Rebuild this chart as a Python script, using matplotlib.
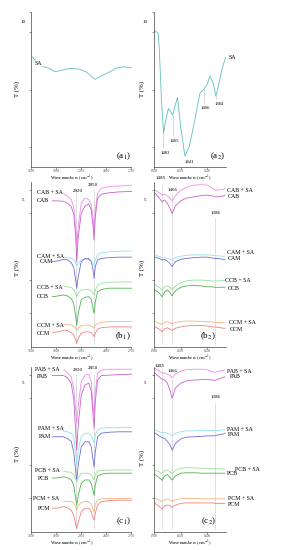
import matplotlib
matplotlib.use('Agg')
import matplotlib.pyplot as plt
import matplotlib.transforms as mtrans

plt.rcParams['font.family'] = ['Liberation Serif', 'DejaVu Serif']
plt.rcParams['mathtext.fontset'] = 'stix'

# ---------------- data ----------------
# panel a1 (SA, 3100-2700 cm-1)
WN_A1 = [3095, 3080, 3051, 3030, 3005, 2975, 2945, 2905, 2880, 2846, 2820, 2786, 2760, 2733, 2700]
T_SA_A1 = [57.0, 54.2, 51.8, 51.1, 49.2, 50.1, 51.0, 50.5, 49.1, 45.3, 47.0, 49.2, 51.1, 51.8, 51.3]

# panel a2 (SA, 1500-1365 cm-1)
WN_A2 = [1500, 1492, 1490, 1486, 1482, 1478, 1473, 1469, 1465, 1461, 1456, 1450, 1442, 1434,
         1426, 1414, 1407, 1401, 1395, 1389, 1384, 1378, 1373, 1366]
T_SA_A2 = [70.8, 69.1, 60.4, 34.5, 17.3, 24.2, 30.2, 28.5, 26.8, 31.1, 35.9, 20.7, 5.5, 10.4,
           20.7, 38.0, 40.1, 42.3, 47.0, 43.2, 36.6, 43.2, 50.1, 56.6]
A2_PEAKS = [1483, 1465, 1441, 1406, 1384]

# left panels (b1, c1) wavenumber grids
WN_L_SA = [2970, 2955, 2940, 2930, 2922, 2918, 2912, 2900, 2885, 2870, 2860, 2853, 2849, 2844,
           2835, 2820, 2790, 2750, 2700]
WN_L = [3015, 2990, 2970, 2955, 2940, 2930, 2922, 2918, 2912, 2900, 2885, 2870, 2860, 2853, 2849,
        2844, 2835, 2820, 2790, 2750, 2700]

# b1
T_CAB_SA_B1 = [33.9, 33.5, 32.7, 31.1, 26.7, 22.6, 26.7, 31.9, 33.0, 32.7, 31.5, 28.5, 25.9, 30.4, 34.1, 35.2, 35.6, 35.7, 35.9]
T_CAB_B1 = [32.4, 32.4, 32.3, 31.9, 31.1, 29.6, 24.4, 18.9, 24.4, 29.6, 31.3, 31.7, 30.4, 26.7, 23.7, 28.9, 33.0, 33.9, 34.2, 34.4, 34.5]
T_CAM_SA_B1 = [19.9, 19.8, 19.6, 19.4, 18.5, 17.8, 18.5, 19.3, 19.4, 19.4, 19.1, 18.5, 18.1, 19.3, 20.4, 20.9, 21.1, 21.2, 21.3]
T_CAM_B1 = [18.9, 19.1, 19.4, 19.3, 18.7, 17.6, 14.8, 13.0, 15.6, 18.9, 19.6, 19.6, 18.9, 17.0, 15.2, 17.8, 19.3, 19.6, 19.8, 19.9, 19.9]
T_CCB_SA_B1 = [13.5, 13.3, 13.2, 12.7, 11.7, 11.1, 11.9, 12.6, 12.7, 12.7, 12.4, 11.9, 11.5, 12.6, 13.7, 14.1, 14.3, 14.4, 14.4]
T_CCB_B1 = [11.1, 11.3, 11.5, 11.3, 10.7, 9.6, 6.7, 4.8, 7.4, 10.4, 11.0, 11.1, 10.5, 8.5, 7.4, 10.0, 12.2, 12.7, 13.0, 13.0, 13.0]
T_CCM_SA_B1 = [5.0, 5.0, 4.8, 4.6, 4.1, 3.7, 4.1, 4.7, 4.8, 4.8, 4.6, 4.3, 4.1, 4.7, 5.2, 5.4, 5.6, 5.6, 5.6]
T_CCM_B1 = [3.2, 3.3, 3.7, 3.6, 3.1, 2.6, 1.5, 0.7, 1.9, 3.0, 3.3, 3.3, 3.1, 2.6, 2.2, 3.0, 3.9, 4.2, 4.4, 4.4, 4.4]

# c1
T_PAB_SA_C1 = [35.9, 35.4, 34.4, 31.9, 26.7, 24.1, 28.1, 33.3, 34.8, 35.0, 33.3, 28.1, 25.9, 31.1, 35.2, 35.9, 36.1, 36.1, 36.1]
T_PAB_C1 = [34.7, 34.7, 34.7, 34.2, 33.0, 29.6, 22.2, 18.1, 23.7, 30.4, 32.6, 33.0, 31.1, 25.9, 23.0, 28.9, 33.7, 34.7, 34.8, 34.9, 35.0]
T_PAM_SA_C1 = [22.4, 22.2, 21.9, 21.1, 17.4, 14.8, 18.1, 21.1, 21.9, 21.9, 21.3, 20.4, 19.6, 21.5, 22.6, 23.0, 23.1, 23.1, 23.2]
T_PAM_C1 = [21.1, 21.1, 21.1, 20.7, 20.1, 17.8, 13.3, 11.5, 14.8, 18.9, 20.0, 20.0, 18.9, 15.9, 14.4, 17.8, 21.1, 21.9, 22.1, 22.2, 22.2]
T_PCB_SA_C1 = [13.5, 13.3, 13.2, 12.7, 11.7, 11.0, 12.0, 12.9, 13.0, 13.0, 12.6, 11.9, 11.5, 12.7, 13.5, 13.6, 13.7, 13.7, 13.7]
T_PCB_C1 = [11.9, 12.0, 12.2, 12.0, 11.5, 10.4, 7.4, 5.9, 8.1, 10.7, 11.5, 11.5, 10.7, 9.0, 8.1, 10.4, 12.4, 12.8, 13.0, 13.0, 13.0]
T_PCM_SA_C1 = [6.8, 6.7, 6.7, 6.4, 5.6, 4.8, 5.8, 6.5, 6.7, 6.7, 6.1, 5.0, 4.4, 6.1, 7.0, 7.3, 7.4, 7.4, 7.4]
T_PCM_C1 = [5.2, 5.3, 5.6, 5.3, 4.8, 3.7, 1.6, 0.7, 2.2, 4.4, 5.2, 5.2, 4.4, 3.1, 2.6, 4.1, 5.9, 6.7, 6.9, 7.0, 7.0]

# right panels (b2, c2) wavenumber grid
WN_R = [1498, 1490, 1485, 1480, 1475, 1470, 1466, 1460, 1450, 1440, 1425, 1410, 1400, 1390, 1386, 1380, 1370, 1367]

# b2
T_CAB_SA_B2 = [34.8, 34.2, 33.7, 33.9, 33.5, 33.0, 32.4, 33.5, 34.7, 35.4, 35.9, 36.0, 35.9, 35.2, 34.8, 34.8, 35.0, 35.1]
T_CAB_B2 = [34.1, 33.0, 32.2, 32.6, 31.9, 30.7, 29.6, 31.3, 32.4, 33.0, 33.3, 33.6, 33.7, 33.5, 33.3, 33.3, 33.5, 33.7]
T_CAM_SA_B2 = [20.4, 20.0, 19.8, 19.9, 19.6, 19.4, 19.3, 19.8, 20.1, 20.3, 20.4, 20.4, 20.4, 20.3, 20.2, 20.2, 20.1, 20.1]
T_CAM_B2 = [19.9, 19.6, 19.3, 19.4, 19.0, 18.5, 17.8, 18.9, 19.4, 19.6, 19.8, 19.9, 19.9, 19.7, 19.6, 19.6, 19.4, 19.4]
T_CCB_SA_B2 = [13.7, 13.2, 12.6, 13.3, 13.5, 13.2, 12.7, 13.5, 14.2, 14.6, 14.8, 14.8, 14.7, 14.6, 14.6, 14.6, 14.7, 14.7]
T_CCB_B2 = [12.6, 11.9, 11.1, 12.2, 12.6, 12.0, 11.3, 12.4, 13.2, 13.5, 13.6, 13.5, 13.3, 13.3, 13.2, 13.2, 13.2, 13.2]
T_CCM_SA_B2 = [5.6, 5.2, 5.0, 5.4, 5.6, 5.3, 5.0, 5.4, 5.6, 5.7, 5.7, 5.6, 5.6, 5.5, 5.4, 5.4, 5.3, 5.3]
T_CCM_B2 = [4.4, 3.9, 3.3, 4.0, 4.2, 3.9, 3.6, 4.1, 4.4, 4.6, 4.7, 4.7, 4.6, 4.4, 4.4, 4.3, 4.1, 4.1]

# c2
T_PAB_SA_C2 = [36.3, 35.7, 35.2, 35.3, 35.0, 34.7, 34.2, 35.0, 35.7, 36.0, 36.1, 36.1, 36.0, 35.6, 35.4, 35.6, 35.9, 35.9]
T_PAB_C2 = [35.2, 34.4, 33.9, 33.7, 33.0, 31.5, 29.6, 31.9, 33.0, 33.5, 33.7, 33.8, 33.8, 33.7, 33.6, 33.9, 34.3, 34.4]
T_PAM_SA_C2 = [22.6, 22.2, 22.0, 22.1, 21.9, 21.6, 21.3, 21.9, 22.2, 22.4, 22.4, 22.5, 22.5, 22.5, 22.5, 22.5, 22.6, 22.6]
T_PAM_C2 = [21.9, 21.3, 20.9, 20.7, 20.1, 19.3, 18.1, 19.6, 20.6, 21.0, 21.1, 21.2, 21.3, 21.3, 21.3, 21.5, 21.7, 21.9]
T_PCB_SA_C2 = [13.7, 13.3, 12.9, 13.5, 13.7, 13.3, 12.9, 13.6, 14.1, 14.2, 14.2, 14.1, 14.1, 14.0, 14.0, 14.0, 13.9, 13.9]
T_PCB_C2 = [12.7, 12.0, 11.4, 12.4, 12.7, 12.1, 11.5, 12.4, 13.0, 13.1, 13.1, 13.0, 13.0, 13.0, 13.0, 13.0, 13.0, 13.0]
T_PCM_SA_C2 = [7.4, 7.0, 6.7, 7.1, 7.3, 7.0, 6.7, 7.1, 7.3, 7.4, 7.4, 7.3, 7.3, 7.3, 7.3, 7.3, 7.3, 7.3]
T_PCM_C2 = [6.3, 5.6, 5.0, 5.8, 5.9, 5.8, 5.4, 5.9, 6.3, 6.4, 6.4, 6.4, 6.4, 6.4, 6.3, 6.3, 6.3, 6.3]

TICKS_L = [3100, 3000, 2900, 2800, 2700]
TICKS_R = [1500, 1450, 1400]
PEAKS_L = [2920, 2850]
PEAKS_R = [1485, 1466, 1386]

# ---------------- style ----------------
C_SA = '#5fc0c0'
C_B_SA, C_B = '#ee8cee', '#c862c8'
C_M_SA, C_M = '#92e2ee', '#6f6fd8'
C_CB_SA, C_CB = '#96e296', '#4db34f'
C_CM_SA, C_CM = '#f6b47c', '#ee8080'
LW = 0.6
SPC = '#444444'
FS_LAB = 4.2
FS_TICK = 2.6

fig = plt.figure(figsize=(2.81, 5.5), dpi=100)
W, H = 281.0, 550.0


def make_ax(left, top, right, bottom):
    ax = fig.add_axes([left / W, 1 - bottom / H, (right - left) / W, (bottom - top) / H])
    for s in ['top', 'right']:
        ax.spines[s].set_visible(False)
    for s in ['left', 'bottom']:
        ax.spines[s].set_linewidth(0.5)
        ax.spines[s].set_color(SPC)
    ax.tick_params(axis='both', direction='out', length=1.2, width=0.4, colors=SPC,
                   labelsize=FS_TICK, pad=0.6)
    ax.tick_params(axis='y', labelleft=False)
    ax.set_facecolor('none')
    return ax


def axis_text(ax, xlabel_x, xlabel_y, ylab_x, ylab_y, scale_txt, scale_y, scale_x):
    ax.set_xlabel('Wavenumbers (cm$^{-1}$)', fontsize=3.4)
    ax.xaxis.set_label_coords(xlabel_x, xlabel_y)
    ax.set_ylabel('T (%)', fontsize=5)
    ax.yaxis.set_label_coords(ylab_x, ylab_y)
    tr = mtrans.blended_transform_factory(ax.transAxes, ax.transData)
    ax.text(scale_x, scale_y, scale_txt, transform=tr, fontsize=3.6, ha='center', va='center')


# ---- a1 ----
ax = make_ax(31, 12, 131.5, 166.7)
ax.set_xlim(3100, 2700)
ax.set_ylim(0, 80.2)
ax.set_xticks(TICKS_L)
ax.set_yticks([10, 40, 70, 80])
ax.plot(WN_A1, T_SA_A1, color=C_SA, lw=LW)
ax.text(3085, 53.5, 'SA', fontsize=FS_LAB, ha='left', va='center',
        bbox=dict(fc='white', ec='none', pad=0.2))
ax.text(0.995, 0.03, '(a$_1$)', transform=ax.transAxes, fontsize=6.5, ha='right', va='bottom')
axis_text(ax, 0.41, -0.05, -0.11, 0.5, '10', 75, -0.08)

# ---- a2 ----
ax = make_ax(154, 12, 226, 166.7)
ax.set_xlim(1500, 1365)
ax.set_ylim(0, 80.2)
ax.set_xticks(TICKS_R)
ax.set_yticks([10, 40, 70, 80])
ax.plot(WN_A2, T_SA_A2, color=C_SA, lw=LW)
a2_line_top = [17.3, 26.8, 5.5, 40.1, 36.6]
a2_line_bot = [9.5, 16.0, 5.0, 33.0, 35.0]
a2_lab_xy = [(1479, 7.0), (1461, 13.5), (1433, 2.5), (1403, 30.5), (1378, 32.5)]
for wn, yt, yb in zip(A2_PEAKS, a2_line_top, a2_line_bot):
    if yt - yb > 1:
        ax.plot([wn, wn], [yt, yb], color='#999999', lw=0.4, ls=(0, (2, 1)))
for (x, y), wn in zip(a2_lab_xy, A2_PEAKS):
    ax.text(x, y, str(wn), fontsize=3.4, ha='center', va='center', clip_on=False)
ax.text(1360, 56.5, 'SA', fontsize=FS_LAB, ha='left', va='center', clip_on=False)
ax.text(0.99, 0.03, '(a$_2$)', transform=ax.transAxes, fontsize=6.5, ha='right', va='bottom')
axis_text(ax, 0.5, -0.05, -0.13, 0.5, '10', 75, -0.13)


def left_panel(top, bottom, curves, labels, peaks_txt, plabel):
    ax = make_ax(31, top, 131.5, bottom)
    ax.set_xlim(3100, 2700)
    ax.set_ylim(0, 36.6)
    ax.set_xticks(TICKS_L)
    ax.set_yticks([7.4, 14.8, 29.8, 34.8])
    for wn in PEAKS_L:
        ax.plot([wn, wn], [0.5, 35.0], color='#aaaaaa', lw=0.4, ls=(0, (2, 1)), zorder=1)
    for wns, ts, col in curves:
        ax.plot(wns, ts, color=col, lw=LW, zorder=2)
    for x, y, t in labels:
        ax.text(x, y, t, fontsize=FS_LAB, ha='left', va='center')
    for x, y, t in peaks_txt:
        ax.text(x, y, t, fontsize=3.6, ha='center', va='center', clip_on=False)
    ax.text(0.995, 0.03, plabel, transform=ax.transAxes, fontsize=6.5, ha='right', va='bottom')
    return ax


def right_panel(top, bottom, curves, labels, peaks_txt, plabel):
    ax = make_ax(154, top, 226, bottom)
    ax.set_xlim(1500, 1365)
    ax.set_ylim(0, 36.6)
    ax.set_xticks(TICKS_R)
    ax.set_yticks([7.4, 14.8, 29.8, 34.8])
    for wn, ytop in zip(PEAKS_R, [36.0, 34.0, 28.5]):
        ax.plot([wn, wn], [0.5, ytop], color='#aaaaaa', lw=0.4, ls=(0, (2, 1)), zorder=1)
    for wns, ts, col in curves:
        ax.plot(wns, ts, color=col, lw=LW, zorder=2)
    for x, y, t in labels:
        ax.text(x, y, t, fontsize=FS_LAB, ha='left', va='center', clip_on=False)
    for x, y, t in peaks_txt:
        ax.text(x, y, t, fontsize=3.6, ha='center', va='center', clip_on=False)
    ax.text(0.86, 0.03, plabel, transform=ax.transAxes, fontsize=6.5, ha='right', va='bottom')
    return ax


# ---- b1 ----
ax = left_panel(182, 346.7,
                [(WN_L_SA, T_CAB_SA_B1, C_B_SA), (WN_L, T_CAB_B1, C_B),
                 (WN_L_SA, T_CAM_SA_B1, C_M_SA), (WN_L, T_CAM_B1, C_M),
                 (WN_L_SA, T_CCB_SA_B1, C_CB_SA), (WN_L, T_CCB_B1, C_CB),
                 (WN_L_SA, T_CCM_SA_B1, C_CM_SA), (WN_L, T_CCM_B1, C_CM)],
                [(3077, 34.2, 'CAB + SA'), (3077, 32.4, 'CAB'),
                 (3077, 20.1, 'CAM + SA'), (3064, 18.9, 'CAM'),
                 (3077, 13.2, 'CCB + SA'), (3077, 11.1, 'CCB'),
                 (3077, 4.7, 'CCM + SA'), (3077, 3.0, 'CCM')],
                [(2915, 34.6, '2920'), (2852, 35.9, '2850')], '(b$_1$)')
axis_text(ax, 0.41, -0.045, -0.11, 0.48, '5', 32.6, -0.08)

# ---- b2 ----
ax = right_panel(182, 346.7,
                 [(WN_R, T_CAB_SA_B2, C_B_SA), (WN_R, T_CAB_B2, C_B),
                  (WN_R, T_CAM_SA_B2, C_M_SA), (WN_R, T_CAM_B2, C_M),
                  (WN_R, T_CCB_SA_B2, C_CB_SA), (WN_R, T_CCB_B2, C_CB),
                  (WN_R, T_CCM_SA_B2, C_CM_SA), (WN_R, T_CCM_B2, C_CM)],
                 [(1364, 34.8, 'CAB + SA'), (1361, 33.3, 'CAB'),
                  (1364, 20.9, 'CAM + SA'), (1361, 19.5, 'CAM'),
                  (1367, 14.7, 'CCB + SA'), (1362, 13.0, 'CCB'),
                  (1359.5, 5.3, 'CCM + SA'), (1357.5, 3.9, 'CCM')],
                 [(1487, 37.4, '1485'), (1466, 34.8, '1466'), (1384, 29.6, '1386')], '(b$_2$)')
axis_text(ax, 0.5, -0.045, -0.13, 0.48, '5', 32.6, -0.13)

# ---- c1 ----
ax = left_panel(367, 531.7,
                [(WN_L_SA, T_PAB_SA_C1, C_B_SA), (WN_L, T_PAB_C1, C_B),
                 (WN_L_SA, T_PAM_SA_C1, C_M_SA), (WN_L, T_PAM_C1, C_M),
                 (WN_L_SA, T_PCB_SA_C1, C_CB_SA), (WN_L, T_PCB_C1, C_CB),
                 (WN_L_SA, T_PCM_SA_C1, C_CM_SA), (WN_L, T_PCM_C1, C_CM)],
                [(3084, 36.1, 'PAB + SA'), (3077, 34.4, 'PAB'),
                 (3071, 23.0, 'PAM + SA'), (3067, 21.1, 'PAM'),
                 (3084, 13.7, 'PCB + SA'), (3071, 11.9, 'PCB'),
                 (3091, 7.4, 'PCM + SA'), (3071, 5.2, 'PCM')],
                [(2915, 35.9, '2920'), (2852, 36.4, '2850')], '(c$_1$)')
axis_text(ax, 0.41, -0.045, -0.11, 0.47, '5', 33.0, -0.08)

# ---- c2 ----
ax = right_panel(367, 531.7,
                 [(WN_R, T_PAB_SA_C2, C_B_SA), (WN_R, T_PAB_C2, C_B),
                  (WN_R, T_PAM_SA_C2, C_M_SA), (WN_R, T_PAM_C2, C_M),
                  (WN_R, T_PCB_SA_C2, C_CB_SA), (WN_R, T_PCB_C2, C_CB),
                  (WN_R, T_PCM_SA_C2, C_CM_SA), (WN_R, T_PCM_C2, C_CM)],
                 [(1364, 35.6, 'PAB + SA'), (1357.5, 34.4, 'PAB'),
                  (1364, 22.8, 'PAM + SA'), (1361, 21.5, 'PAM'),
                  (1348, 13.9, 'PCB + SA'), (1364, 13.0, 'PCB'),
                  (1361, 7.3, 'PCM + SA'), (1361, 6.1, 'PCM')],
                 [(1489, 36.9, '1485'), (1466, 35.6, '1466'), (1384, 30.0, '1386')], '(c$_2$)')
axis_text(ax, 0.5, -0.045, -0.13, 0.45, '5', 33.0, -0.13)

fig.savefig('out.png', dpi=100, facecolor='white')
